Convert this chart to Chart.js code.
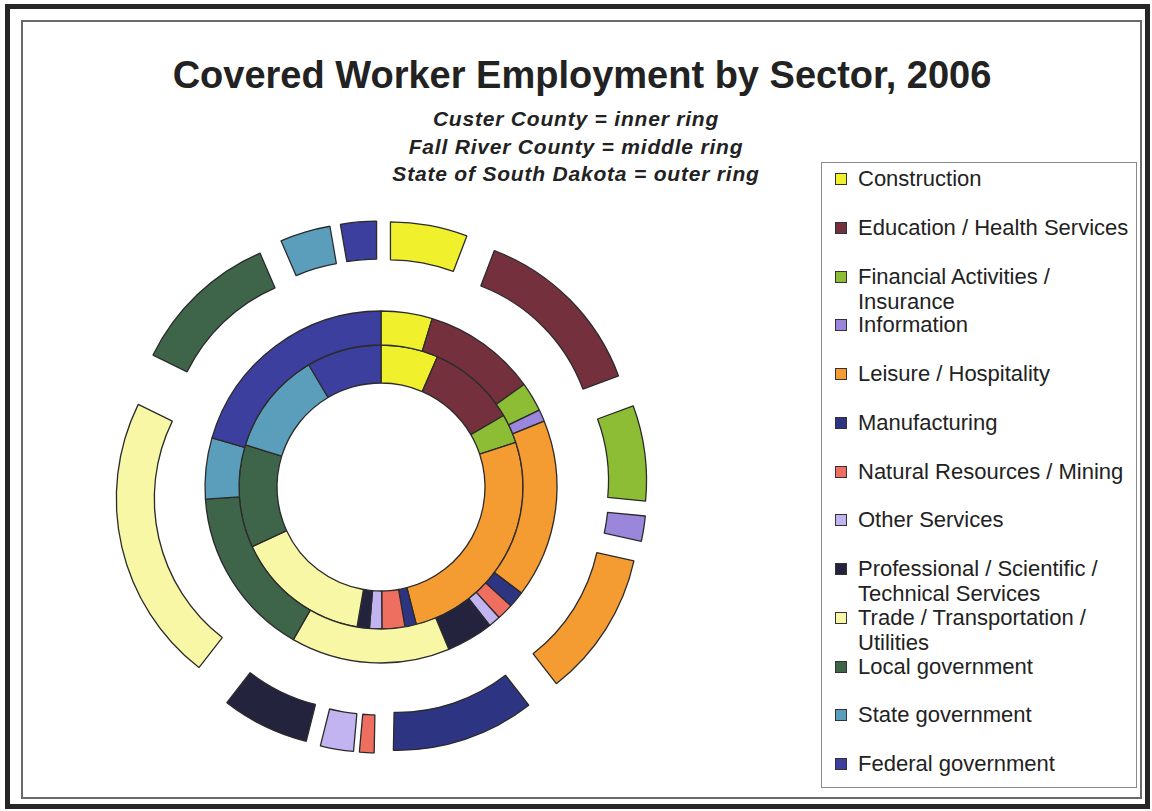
<!DOCTYPE html>
<html>
<head>
<meta charset="utf-8">
<script src="https://cdn.jsdelivr.net/npm/chart.js@4.4.0/dist/chart.umd.min.js"></script>
<style>
  html, body { margin: 0; padding: 0; background: #fff; }
  #page { position: relative; width: 1152px; height: 811px; overflow: hidden; font-family: "Liberation Sans", Arial, sans-serif; }
  #outerFrame { position: absolute; left: 5px; top: 4px; width: 1135px; height: 795px; border: 5px solid #262626; }
  #innerFrame { position: absolute; left: 21px; top: 20px; width: 1117px; height: 775px; border: 2px solid #6a6a6a; }
  #title { position: absolute; left: 0; width: 1164px; top: 53px; text-align: center; font-weight: bold; font-size: 38px; line-height: 44px; color: #222; }
  #subtitle { position: absolute; left: 0; width: 1152px; top: 105px; text-align: center; font-weight: bold; font-style: italic; font-size: 21px; letter-spacing: 0.8px; line-height: 27.5px; color: #222; }
  #chartBox { position: absolute; left: 101px; top: 207px; width: 560px; height: 560px; }
  #legend { position: absolute; left: 821px; top: 162px; width: 314px; height: 624px; border: 1px solid #8a8a8a; }
  .item { position: absolute; left: 0; width: 312px; }
  .swatch { position: absolute; left: 13px; top: 7px; width: 10px; height: 10px; border: 1px solid #333; }
  .txt { position: absolute; left: 36px; width: 277px; font-size: 22px; line-height: 25px; color: #222; }
</style>
</head>
<body>
<div id="page">
  <div id="outerFrame"></div>
  <div id="innerFrame"></div>
  <div id="title">Covered Worker Employment by Sector, 2006</div>
  <div id="subtitle">Custer County = inner ring<br>Fall River County = middle ring<br>State of South Dakota = outer ring</div>
  <div id="chartBox"><canvas id="myChart" width="560" height="560"></canvas></div>
  <div id="legend"></div>
</div>
<script>
// sectors, in drawing order (clockwise from 12 o'clock)
const sectors = ["Construction", "Education / Health Services", "Financial Activities / Insurance", "Information",
  "Leisure / Hospitality", "Manufacturing", "Natural Resources / Mining", "Other Services",
  "Professional / Scientific / Technical Services", "Trade / Transportation / Utilities",
  "Local government", "State government", "Federal government"];

// share of covered employment, percent
const custer      = [6.5, 10.1, 3.3, 0,   26.1, 1.3,  2.6, 1.4, 1.4, 15.4, 11.7, 11.7, 8.5];
const fallRiver   = [4.7, 10.4, 2.7, 1.1, 16.4, 1.5,  1.5, 1.1, 4.3, 14.6, 15.6, 5.6, 20.5];
const southDakota = [5.8, 13.5, 7.2, 1.9, 11.0, 10.8, 1.1, 2.5, 6.6, 21.7, 11.2, 3.8, 2.7];

const colors = ["#F1F02C", "#75303E", "#8CBD35", "#9A86DA", "#F49B31", "#2D3583", "#EE6F5F",
  "#C2B4F1", "#24233D", "#F8F7A6", "#3E6549", "#5B9EBB", "#3C3F9D"];

// pushes each slice of a ring straight out from the centre, like an exploded ring
const explodePlugin = {
  id: 'explode',
  beforeDatasetDraw(chart, args) {
    const ds = chart.data.datasets[args.index];
    if (!ds.explode) return;
    const ctx = chart.ctx;
    args.meta.data.forEach(arc => {
      if (arc.circumference === 0) return;
      const mid = (arc.startAngle + arc.endAngle) / 2;
      ctx.save();
      ctx.translate(Math.cos(mid) * ds.explode, Math.sin(mid) * ds.explode);
      arc.draw(ctx);
      ctx.restore();
    });
    return false;
  }
};

new Chart("myChart", {
  type: "doughnut",
  data: {
    labels: sectors,
    datasets: [{
      label: "State of South Dakota",
      data: southDakota,
      backgroundColor: colors,
      borderColor: "#2b2b2b",
      borderWidth: 1.3,
      weight: 38,
      explode: 52
    }, {
      label: "Fall River County",
      data: fallRiver,
      backgroundColor: colors,
      borderColor: "#2b2b2b",
      borderWidth: 1.3,
      weight: 34
    }, {
      label: "Custer County",
      data: custer,
      backgroundColor: colors,
      borderColor: "#2b2b2b",
      borderWidth: 1.3,
      weight: 38
    }]
  },
  options: {
    responsive: false,
    animation: false,
    events: [],
    radius: 214,
    cutout: "48.6%",
    plugins: {
      legend: {display: false},
      tooltip: {enabled: false}
    }
  },
  plugins: [explodePlugin]
});

// legend box on the right
const legend = document.getElementById("legend");
sectors.forEach((name, i) => {
  const item = document.createElement("div");
  item.className = "item";
  item.style.top = (3 + i * 48.75) + "px";
  item.innerHTML = '<div class="swatch" style="background:' + colors[i] + '"></div><div class="txt">' + name + '</div>';
  legend.appendChild(item);
});
</script>
</body>
</html>
